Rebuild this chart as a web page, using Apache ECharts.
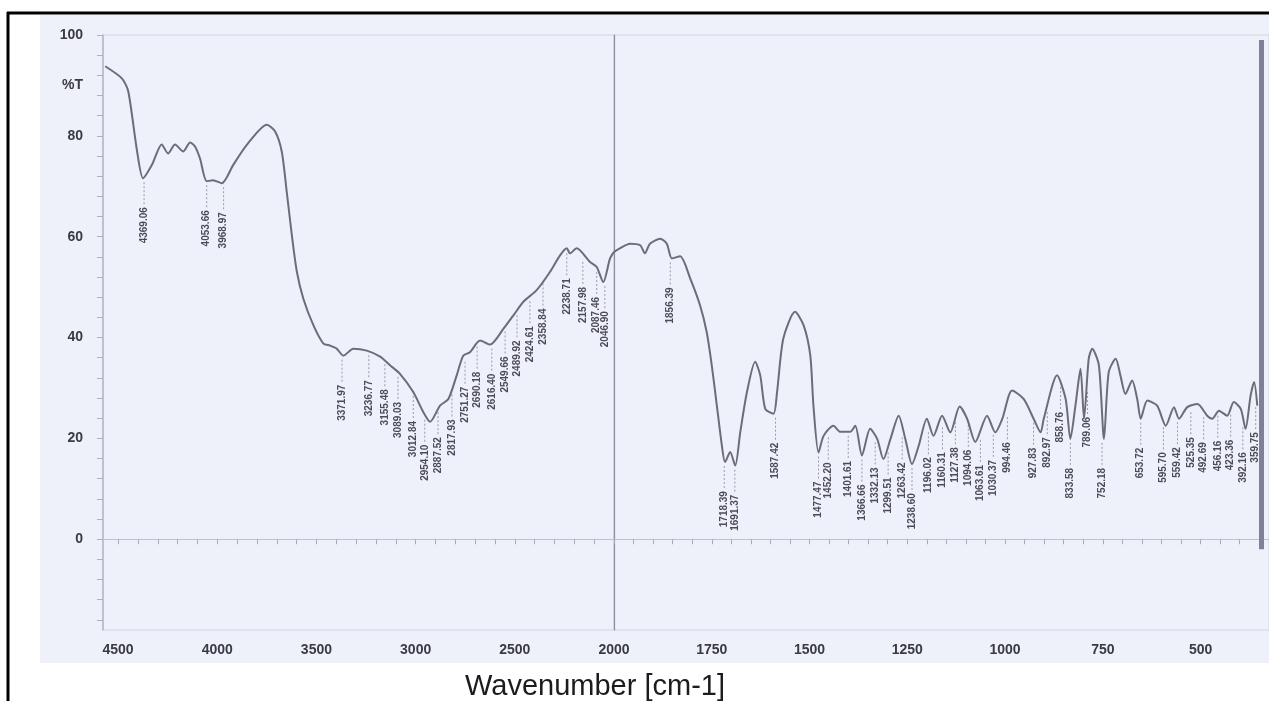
<!DOCTYPE html>
<html>
<head>
<meta charset="utf-8">
<script src="https://cdn.jsdelivr.net/npm/echarts@6/dist/echarts.min.js"></script>
<style>
html,body{margin:0;padding:0;background:#fff;}
#chart{width:1269px;height:701px;}
</style>
</head>
<body>
<div id="chart"></div>
<script>
// ---- data ----
const wavenumbers = [
  4565,4481,4449,4404,4374,4330,4280,4248,4213,4172,4137,4112,4087,4053,4021,3977,3920,3851,3750,3709,
  3675,3650,3624,3599,3566,3515,3465,3431,3398,3364,3314,3246,3179,3129,3079,3012,2961,2927,2877,2835,
  2793,2760,2726,2675,2625,2558,2507,2457,2390,2323,2272,2238,2222,2188,2121,2087,2054,2020,2000,
  1985,1959,1933,1921,1908,1882,1865,1852,1831,1805,1780,1763,1750,1737,1724,1716,1703,1690,1677,1660,
  1639,1626,1613,1592,1583,1567,1537,1515,1498,1490,1477,1464,1439,1421,1396,1383,1366,1345,1327,1311,
  1293,1272,1255,1238,1221,1200,1183,1161,1140,1116,1097,1076,1046,1025,1007,982,952,927,909,901,
  867,845,833,820,807,798,786,777,760,747,735,717,705,692,675,662,653,636,611,589,
  568,555,534,508,483,470,453,432,415,397,385,372,363,355
];
const transmittance = [
  93.8,91.4,88.9,76.9,71.6,74.2,78.3,76.5,78.3,76.9,78.7,77.9,75.5,71.0,71.2,70.6,74.2,78.2,82.2,80.9,
  76.9,69.0,60.3,53.1,47.7,42.4,38.8,38.4,37.8,36.4,37.8,37.4,36.2,34.5,32.8,29.2,25.2,23.3,26.5,27.8,
  32.5,36.4,37.1,39.4,38.6,41.7,44.4,47.1,49.4,53.0,56.3,57.7,56.7,57.7,55.0,54.0,51.0,55.7,57.0,
  57.7,58.6,58.3,56.7,58.6,59.6,58.6,55.7,56.1,51.7,46.4,41.1,34.5,26.5,18.5,15.3,17.3,14.6,21.3,29.2,
  35.2,32.5,25.8,24.9,29.2,39.8,45.1,42.4,36.4,26.5,17.2,20.5,22.5,21.3,21.3,22.5,16.6,21.9,19.9,15.9,
  19.9,24.5,19.9,14.9,18.5,23.9,20.5,24.5,21.2,26.3,23.9,19.3,24.5,21.2,23.9,29.5,27.8,23.9,21.2,23.9,
  32.5,27.8,19.9,26.5,33.8,23.9,35.8,37.8,34.5,19.9,33.1,35.8,32.5,28.8,31.5,27.8,23.9,27.5,26.5,22.5,
  26.2,23.9,26.2,26.8,24.5,23.9,25.5,24.5,27.2,25.8,21.9,28.5,31.2,26.5
];

// annotated peaks
const peakWn = [
  4369,4053,3968,3371,3236,3155,3089,3012,2954,2887,2817,2751,2690,2616,2549,2489,2424,2358,2238,2157,2087,2046,
  1856,1718,1691,1587,1477,1452,1401,1366,1332,1299,1263,1238,1196,1160,1127,1094,1063,1030,994,927,892,858,833,
  789,752,653,595,559,525,492,456,423,392,359
];
const peakT = [
  71.6,71.0,70.6,36.4,37.3,35.5,33.0,29.2,24.5,26.0,29.5,36.0,39.0,38.6,42.0,45.2,48.0,51.5,57.5,55.8,53.8,51.0,
  55.7,15.3,14.6,24.9,17.2,21.0,21.3,16.6,20.0,18.0,21.0,14.9,22.0,23.0,24.0,23.5,20.5,21.5,25.0,23.9,26.0,31.0,19.9,
  30.0,19.9,23.9,23.0,24.0,26.0,25.0,25.3,25.5,23.0,27.0
];
const peakDecimals = ['06','66','97','97','77','48','03','84','10','52','93','27','18','40','66','92','61','84','71','98','46','90',
  '39','39','37','42','47','20','61','66','13','51','42','60','02','31','38','06','61','37','46','83','97','76','58',
  '06','18','72','70','42','35','69','16','36','16','75'];
const peakLabels = peakWn.map((w, i) => String(w) + '.' + peakDecimals[i]);

const edgeBarWn = 344;
const edgeBarRange = [-2, 99];

const yLabelValues = [0, 20, 40, 60, 80, 90, 100];
const yTickValues = [-16,-12,-8,-4,0,4,8,12,16,20,24,28,32,36,40,44,48,52,56,60,64,68,72,76,80,84,88,92,96,100];
const leftXLabels = [4500, 4000, 3500, 3000, 2500];
const rightXLabels = [2000, 1750, 1500, 1250, 1000, 750, 500];
const leftXTicks = [];
for (let v = 4500; v >= 2000; v -= 100) leftXTicks.push(v);
const rightXTicks = [];
for (let v = 2000; v >= 350; v -= 50) rightXTicks.push(v);

// ---- build series data ----
const leftData = [], rightData = [];
wavenumbers.forEach((w, i) => {
  if (w >= 2000) leftData.push([w, transmittance[i]]);
  if (w <= 2000) rightData.push([w, transmittance[i]]);
});
const leftPeaks = [], rightPeaks = [];
peakWn.forEach((w, i) => {
  if (w >= 2000) leftPeaks.push([w, peakT[i], i]);
  else rightPeaks.push([w, peakT[i], i]);
});

const LINE = '#6c6c7a';
const tickFont = {fontFamily: 'Liberation Sans, Arial, sans-serif', fontSize: 14, color: '#3a3a44', fontWeight: 'bold'};

function peakRender(params, api) {
  const p = api.coord([api.value(0), api.value(1)]);
  const idx = api.value(2);
  return {
    type: 'group',
    children: [
      {type: 'line', shape: {x1: p[0], y1: p[1] + 4, x2: p[0], y2: p[1] + 27},
       style: {stroke: '#9a9aa8', lineWidth: 1, lineDash: [2, 2]}},
      {type: 'text', x: p[0], y: p[1] + 29, rotation: Math.PI / 2,
       style: {text: peakLabels[idx], fill: '#4c4c58', font: 'bold 10px Liberation Sans, Arial, sans-serif',
               align: 'right', verticalAlign: 'middle'}}
    ]
  };
}

const chart = echarts.init(document.getElementById('chart'), null, {renderer: 'canvas'});
chart.setOption({
  backgroundColor: '#ffffff',
  animation: false,
  title: {
    text: 'Wavenumber [cm-1]',
    left: 460, top: 667,
    textStyle: {fontFamily: 'Liberation Sans, Arial, sans-serif', fontSize: 29, fontWeight: 'normal', color: '#1c1c1c'}
  },
  graphic: [
    {type: 'rect', z: -10, shape: {x: 40, y: 15, width: 1229, height: 648}, style: {fill: '#eef0fa'}},
    {type: 'line', z: 100, shape: {x1: 8, y1: 12, x2: 8, y2: 701}, style: {stroke: '#000', lineWidth: 3}},
    {type: 'line', z: 100, shape: {x1: 7, y1: 13, x2: 1269, y2: 13}, style: {stroke: '#000', lineWidth: 3}}
  ],
  grid: [
    {left: 103, right: 655, top: 35, bottom: 71, show: true, borderColor: '#d2d4e2', borderWidth: 1, backgroundColor: 'transparent'},
    {left: 614, right: 0, top: 35, bottom: 71, show: true, borderColor: '#d2d4e2', borderWidth: 1, backgroundColor: 'transparent'}
  ],
  xAxis: [
    {gridIndex: 0, type: 'value', inverse: true, min: 2000, max: 4576,
     axisLine: {show: true, lineStyle: {color: '#bfc0d0', width: 1}},
     axisTick: {show: true, customValues: leftXTicks, length: 5, lineStyle: {color: '#a8a9ba'}},
     axisLabel: {customValues: leftXLabels, margin: 13, ...tickFont, formatter: v => String(v)},
     splitLine: {show: false}},
    {gridIndex: 1, type: 'value', inverse: true, min: 325, max: 2000,
     axisLine: {show: true, lineStyle: {color: '#bfc0d0', width: 1}},
     axisTick: {show: true, customValues: rightXTicks, length: 5, lineStyle: {color: '#a8a9ba'}},
     axisLabel: {customValues: rightXLabels, margin: 13, ...tickFont, formatter: v => String(v)},
     splitLine: {show: false}}
  ],
  yAxis: [
    {gridIndex: 0, type: 'value', min: -18, max: 100,
     axisLine: {show: true, lineStyle: {color: '#b4b6c8', width: 1.5}},
     axisTick: {show: true, customValues: yTickValues, length: 6, lineStyle: {color: '#b0b2c4'}},
     axisLabel: {customValues: yLabelValues, margin: 20, ...tickFont,
                 formatter: v => (v === 90 ? '%T' : String(v))},
     splitLine: {show: false}},
    {gridIndex: 1, type: 'value', min: -18, max: 100,
     axisLine: {show: true, lineStyle: {color: '#8e8e9c', width: 1.2}},
     axisTick: {show: false}, axisLabel: {show: false}, splitLine: {show: false}}
  ],
  series: [
    {type: 'line', xAxisIndex: 0, yAxisIndex: 0, data: leftData, showSymbol: false, smooth: 0.25,
     lineStyle: {color: LINE, width: 2}},
    {type: 'line', xAxisIndex: 1, yAxisIndex: 1, data: rightData, showSymbol: false, smooth: 0.25,
     lineStyle: {color: LINE, width: 2},
     markLine: {silent: true, symbol: ['none', 'none'], label: {show: false},
       lineStyle: {color: '#7f8199', width: 5, type: 'solid'},
       data: [[{coord: [edgeBarWn, edgeBarRange[0]]}, {coord: [edgeBarWn, edgeBarRange[1]]}]]}},
    {type: 'custom', xAxisIndex: 0, yAxisIndex: 0, data: leftPeaks, renderItem: peakRender, encode: {x: 0, y: 1}, z: 3},
    {type: 'custom', xAxisIndex: 1, yAxisIndex: 1, data: rightPeaks, renderItem: peakRender, encode: {x: 0, y: 1}, z: 3}
  ]
});
</script>
</body>
</html>
